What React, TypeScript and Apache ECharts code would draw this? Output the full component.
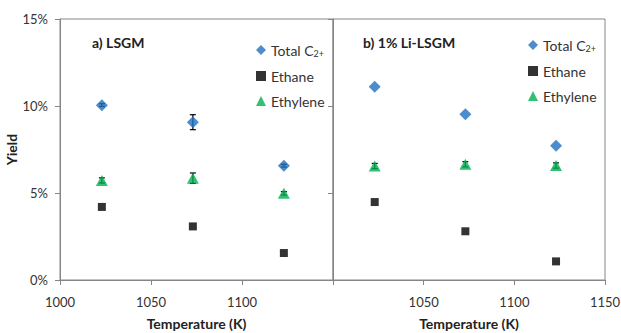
import React, { useEffect, useRef } from "react";
import * as echarts from "echarts";

const temps = [1023, 1073, 1123];
const xTicks = [1000, 1050, 1100, 1150];
const yTicks = [0, 5, 10, 15];

const lsgmTotal = [10.05, 9.07, 6.57];
const lsgmTotalErr = [0.08, 0.43, 0.08];
const lsgmEthane = [4.2, 3.08, 1.55];
const lsgmEthylene = [5.72, 5.85, 4.98];
const lsgmEthyleneErr = [0.15, 0.3, 0.1];

const liTotal = [11.1, 9.52, 7.72];
const liEthane = [4.48, 2.8, 1.07];
const liEthylene = [6.55, 6.65, 6.58];
const liEthyleneErr = [0.15, 0.15, 0.15];

const names = ["Total C2+", "Ethane", "Ethylene"];
const panelLabels = ["a) LSGM", "b) 1% Li-LSGM"];

const BLUE = "#1F70C1";
const GREEN = "#00B050";
const AXIS = "#868686";
const FONT = "Lato";

const pts = (vals: number[]) => temps.map((t, i) => [t, vals[i]]);
const errs = (vals: number[], e: number[]) => temps.map((t, i) => [t, vals[i] - e[i], vals[i] + e[i]]);

const errRender = (params: any, api: any) => {
  const x = api.value(0);
  const p1 = api.coord([x, api.value(2)]);
  const p2 = api.coord([x, api.value(1)]);
  const w = 3;
  const st = { stroke: "#000", lineWidth: 1.2 };
  return {
    type: "group",
    children: [
      { type: "line", shape: { x1: p1[0], y1: p1[1], x2: p2[0], y2: p2[1] }, style: st },
      { type: "line", shape: { x1: p1[0] - w, y1: p1[1], x2: p1[0] + w, y2: p1[1] }, style: st },
      { type: "line", shape: { x1: p2[0] - w, y1: p2[1], x2: p2[0] + w, y2: p2[1] }, style: st },
    ],
  };
};

export default function App() {
  const ref = useRef<HTMLDivElement>(null);
  useEffect(() => {
    if (!ref.current) return;
    const chart = echarts.init(ref.current, null, { renderer: "svg" });
    const xAxisBase = (gi: number, hide: number) => ({
      type: "value",
      gridIndex: gi,
      min: xTicks[0],
      max: xTicks[xTicks.length - 1],
      interval: 50,
      name: "Temperature (K)",
      nameLocation: "middle",
      nameGap: 36,
      nameTextStyle: { fontFamily: FONT, fontSize: 14, fontWeight: "bold", color: "#222" },
      axisLine: { lineStyle: { color: AXIS } },
      axisTick: { lineStyle: { color: AXIS }, length: 5 },
      axisLabel: {
        fontFamily: FONT,
        fontSize: 13,
        color: "#333",
        margin: 15,
        formatter: (v: number) => (v === hide ? "" : String(v)),
      },
      splitLine: { show: false },
    });
    const yAxisBase = (gi: number, labels: boolean) => ({
      type: "value",
      gridIndex: gi,
      min: yTicks[0],
      max: yTicks[yTicks.length - 1],
      interval: 5,
      name: labels ? "Yield" : "",
      nameLocation: "middle",
      nameGap: 32,
      nameTextStyle: { fontFamily: FONT, fontSize: 14, fontWeight: "bold", color: "#222" },
      axisLine: { show: true, lineStyle: { color: AXIS } },
      axisTick: { show: true, lineStyle: { color: AXIS }, length: 5 },
      axisLabel: {
        show: labels,
        fontFamily: FONT,
        fontSize: 13,
        color: "#333",
        margin: 12,
        formatter: "{value}%",
      },
      splitLine: { show: false },
    });
    const legendBase = (left: number, top: number) => ({
      orient: "vertical",
      left,
      top,
      data: names,
      itemWidth: 10,
      itemHeight: 10,
      itemGap: 11,
      selectedMode: false,
      textStyle: {
        fontFamily: FONT,
        fontSize: 14,
        color: "#333",
        rich: { sub: { fontFamily: FONT, fontSize: 9, color: "#333", padding: [7, 0, 0, 0] } },
      },
      formatter: (n: string) => (n === "Total C2+" ? "Total C{sub|2+}" : n),
    });
    const scatter = (name: string, gi: number, data: number[][]) => {
      const sym =
        name === "Total C2+"
          ? { symbol: "diamond", symbolSize: 12, color: BLUE }
          : name === "Ethane"
          ? { symbol: "rect", symbolSize: 8, color: "#000" }
          : { symbol: "triangle", symbolSize: [12, 11], color: GREEN };
      return {
        type: "scatter",
        name,
        xAxisIndex: gi,
        yAxisIndex: gi,
        data,
        symbol: sym.symbol,
        symbolSize: sym.symbolSize,
        itemStyle: { color: sym.color },
        z: 3,
      };
    };
    const err = (gi: number, data: number[][]) => ({
      type: "custom",
      xAxisIndex: gi,
      yAxisIndex: gi,
      data,
      encode: { x: 0, y: [1, 2] },
      renderItem: errRender,
      z: 2,
      silent: true,
    });
    chart.setOption({
      animation: false,
      grid: [
        { left: 60, top: 19, width: 273, height: 261, show: true, borderColor: AXIS, borderWidth: 1, outerBoundsMode: "none", containLabel: false },
        { left: 333, top: 19, width: 272, height: 261, show: true, borderColor: AXIS, borderWidth: 1, outerBoundsMode: "none", containLabel: false },
      ],
      xAxis: [xAxisBase(0, 1150), xAxisBase(1, 1000)],
      yAxis: [yAxisBase(0, true), yAxisBase(1, false)],
      legend: [legendBase(251, 38), legendBase(523, 33)],
      graphic: [
        { type: "text", left: 92, top: 35, style: { text: panelLabels[0], font: `bold 14px ${FONT}`, fill: "#222" } },
        { type: "text", left: 363, top: 35, style: { text: panelLabels[1], font: `bold 14px ${FONT}`, fill: "#222" } },
      ],
      series: [
        err(0, errs(lsgmTotal, lsgmTotalErr)),
        err(0, errs(lsgmEthylene, lsgmEthyleneErr)),
        scatter("Total C2+", 0, pts(lsgmTotal)),
        scatter("Ethane", 0, pts(lsgmEthane)),
        scatter("Ethylene", 0, pts(lsgmEthylene)),
        err(1, errs(liEthylene, liEthyleneErr)),
        scatter("Total C2+", 1, pts(liTotal)),
        scatter("Ethane", 1, pts(liEthane)),
        scatter("Ethylene", 1, pts(liEthylene)),
      ],
    });
    return () => chart.dispose();
  }, []);
  return (
    <div
      ref={ref}
      style={{ position: "fixed", left: 0, top: 0, width: 621, height: 333, background: "#fff" }}
    />
  );
}
